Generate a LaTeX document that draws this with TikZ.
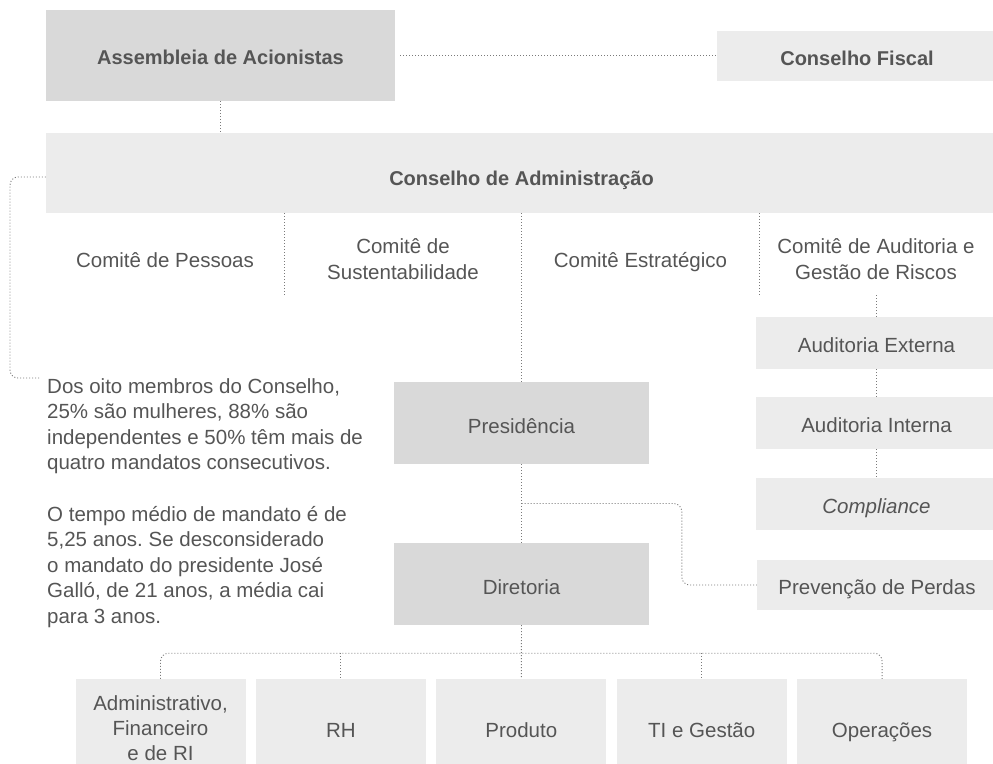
\documentclass[tikz,border=0pt]{standalone}
\usepackage{fontspec}
\setmainfont{Liberation Sans}
\usetikzlibrary{positioning,calc}
\definecolor{boxdark}{HTML}{D9D9D9}
\definecolor{boxlight}{HTML}{ECECEC}
\definecolor{txtgray}{HTML}{555555}
\definecolor{linegray}{HTML}{7A7A7A}
\frenchspacing
\begin{document}
\begin{tikzpicture}[x=1pt,y=-1pt,
  every node/.style={text=txtgray,font=\fontsize{20.5}{25.6}\selectfont,inner sep=0pt,align=center},
  head/.style={font=\fontsize{20}{25}\selectfont\bfseries},
  one/.style={text height=19pt,text depth=0.5pt},
  low/.style={text height=21pt,text depth=0pt},
  dark/.style={fill=boxdark},
  light/.style={fill=boxlight},
  link/.style={draw=linegray,line width=0.9pt,dash pattern=on 1pt off 2pt},
  comite/.style={minimum width=238pt,minimum height=74pt},
  area/.style={light,minimum width=170pt,minimum height=98pt}]
\useasboundingbox (0,0) rectangle (993,763);
\clip (0,0) rectangle (993,763);

\node[dark,head,one,minimum width=349pt,minimum height=91pt] (assembleia) at (220.5,55.5) {Assembleia de Acionistas};
\node[light,head,one,minimum width=280pt,minimum height=50pt] (fiscal) at (857,56) {Conselho Fiscal};
\node[light,head,text height=25pt,text depth=0pt,minimum width=951pt,minimum height=80pt] (conselho) at (521.5,173) {Conselho de Administração};

\node[comite,one] (pessoas) at (165,258) {Comitê de Pessoas};
\node[comite] (sustent) at (403,259) {Comitê de\\Sustentabilidade};
\node[comite,one] (estrat) at (640.5,258) {Comitê Estratégico};
\node[comite] (auditcom) at (876,259) {Comitê de Auditoria e\\Gestão de Riscos};

\node[light,one,minimum width=241pt,minimum height=52pt] (audext) at (876.5,343) {Auditoria Externa};
\node[light,one,minimum width=241pt,minimum height=52pt] (audint) at (876.5,423) {Auditoria Interna};
\node[light,one,minimum width=241pt,minimum height=52pt] (compliance) at (876.5,504) {\itshape Compliance};
\node[light,one,minimum width=240pt,minimum height=50pt] (prevencao) at (877,585) {Prevenção de Perdas};

\node[dark,low,minimum width=255pt,minimum height=82pt] (presidencia) at (521.5,423) {Presidência};
\node[dark,low,minimum width=255pt,minimum height=82pt] (diretoria) at (521.5,584) {Diretoria};

\node[anchor=north west,align=left] (nota) at (47,378) {Dos oito membros do Conselho,\\25\% são mulheres, 88\% são\\independentes e 50\% têm mais de\\quatro mandatos consecutivos.\\[25.6pt]O tempo médio de mandato é de\\5,25 anos. Se desconsiderado\\o mandato do presidente José\\Galló, de 21 anos, a média cai\\para 3 anos.};

\node[area,font=\fontsize{20.5}{25}\selectfont] (adm) at (160.5,728) {Administrativo,\\Financeiro\\e de RI};
\node[area,one,right=10pt of adm] (rh) {RH};
\node[area,one,right=10pt of rh] (produto) {Produto};
\node[area,one,right=10pt of produto] (ti) {TI e Gestão};
\node[area,one,right=10pt of ti] (operacoes) {Operações};

\draw[link] ([xshift=5pt]assembleia.east) -- (assembleia.east -| fiscal.west);
\draw[link] (assembleia.south) -- (assembleia.south |- conselho.north);
\draw[link] (conselho.south -| pessoas.east) -- (pessoas.south east);
\draw[link] (conselho.south -| estrat.east) -- (estrat.south east);
\draw[link] (conselho.south -| presidencia.north) -- (presidencia.north);
\draw[link] (audext.north |- estrat.south) -- (audext.north);
\draw[link] (audext.south) -- (audint.north);
\draw[link] (audint.south) -- (compliance.north);
\draw[link,rounded corners=8pt] ([yshift=-4pt]conselho.west) -| ($(nota.north west)+(-37,0)$) -- ($(nota.north west)+(-7,0)$);

\coordinate (pbranch) at ($(presidencia.south)!0.5!(diretoria.north)$);
\draw[link] (presidencia.south) -- (diretoria.north);
\draw[link,rounded corners=8pt] (pbranch) -| ($(prevencao.west)+(-75,0)$) -- (prevencao.west);

\coordinate (dbranch) at ($(diretoria.south)+(0,28)$);
\draw[link] (diretoria.south) -- (produto.north);
\draw[link,rounded corners=8pt] (adm.north) |- (dbranch) -| (operacoes.north);
\foreach \n in {rh,ti}
  \draw[link] (\n.north |- dbranch) -- (\n.north);
\end{tikzpicture}
\end{document}
